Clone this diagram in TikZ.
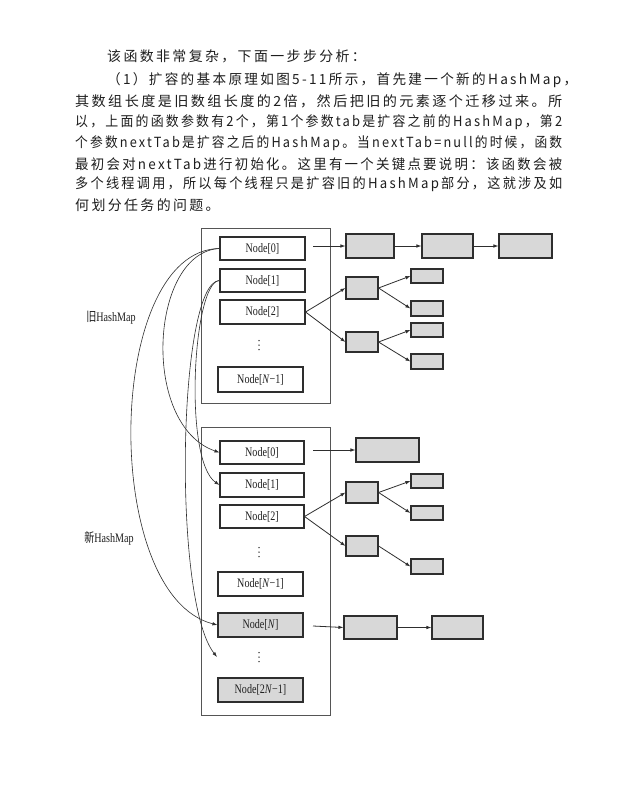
\documentclass[tikz,border=0pt]{standalone}
\usepackage{fontspec}
\usepackage{graphicx}
\setmainfont{Liberation Serif}
\newfontfamily\cjk[LetterSpace=17]{Noto Sans CJK SC}
\newfontfamily\cjkplain{Noto Sans CJK SC}
\usetikzlibrary{arrows.meta}
\definecolor{txt}{HTML}{1E1E1E}
\definecolor{boxfill}{HTML}{D8D8D8}
\definecolor{edge}{HTML}{2E2E2E}
\definecolor{frame}{HTML}{555555}
\newcommand{\nlab}[1]{\scalebox{0.78}[1]{#1}}
\newcommand{\fitline}[2]{\resizebox{#1}{\height}{#2}}
\newcommand{\vdotsat}[1]{\foreach \dy in {-4.5,0,4.5}{\fill[txt] ([yshift=-\dy bp]#1) circle (0.75bp);}}
\begin{document}
\begin{tikzpicture}[x=1bp,y=-1bp,
  para/.style={anchor=west,inner sep=0,font=\fontsize{14}{14}\selectfont\cjk,text=txt},
  frm/.style={draw=frame,line width=1bp,inner sep=0},
  nodebox/.style={draw=edge,line width=1.1bp,inner sep=0,font=\fontsize{13}{13}\selectfont,text=txt},
  gnode/.style={nodebox,fill=boxfill},
  gb/.style={draw=edge,line width=1.1bp,fill=boxfill,inner sep=0},
  conn/.style={draw=edge,line width=0.8bp,-{Latex[length=5bp,width=3.6bp]}},
  curv/.style={draw=edge,line width=0.6bp,-{Latex[length=5bp,width=3.4bp]}},
  side/.style={inner sep=0,font=\fontsize{13}{13}\selectfont,text=txt}
]
\useasboundingbox[fill=white] (0,0) rectangle (640,812);

% paragraph
\node[para] (l1) at (107,56) {该函数非常复杂，下面一步步分析：};
\node[para] (l2) at (107,80) {\fitline{470bp}{（1）扩容的基本原理如图5-11所示，首先建一个新的HashMap，}};
\node[para] (l3) at (75,101) {\fitline{487bp}{其数组长度是旧数组长度的2倍，然后把旧的元素逐个迁移过来。所}};
\node[para] (l4) at (75,122) {\fitline{487bp}{以，上面的函数参数有2个，第1个参数tab是扩容之前的HashMap，第2}};
\node[para] (l5) at (75,143) {\fitline{487bp}{个参数nextTab是扩容之后的HashMap。当nextTab=null的时候，函数}};
\node[para] (l6) at (75,164) {\fitline{487bp}{最初会对nextTab进行初始化。这里有一个关键点要说明：该函数会被}};
\node[para] (l7) at (75,184) {\fitline{487bp}{多个线程调用，所以每个线程只是扩容旧的HashMap部分，这就涉及如}};
\node[para] (l8) at (75,205) {何划分任务的问题。};

% side labels
\node[side] (oldlab) at (111,318) {\nlab{{\cjkplain 旧}HashMap}};
\node[side] (newlab) at (109,538) {\nlab{{\cjkplain 新}HashMap}};

% old hashmap
\node[frm,minimum width=129bp,minimum height=175bp] (oldf) at (265.5,315.5) {};
\node[nodebox,minimum width=85bp,minimum height=23bp] (oN0) at (262.5,248.5) {\nlab{Node[0]}};
\node[nodebox,minimum width=85bp,minimum height=23bp] (oN1) at (262.5,280.5) {\nlab{Node[1]}};
\node[nodebox,minimum width=85bp,minimum height=24bp] (oN2) at (262.5,312) {\nlab{Node[2]}};
\coordinate (od) at (259,345);
\vdotsat{od}
\node[nodebox,minimum width=85bp,minimum height=25bp] (oNm) at (260.5,379.5) {\nlab{Node[\textit{N}−1]}};

\coordinate (os0) at (313,246);
\node[gb,minimum width=48bp,minimum height=24bp] (b1) at (370,246) {};
\node[gb,minimum width=51bp,minimum height=24bp] (b2) at (447.5,246) {};
\node[gb,minimum width=53bp,minimum height=24bp] (b3) at (525.5,246) {};
\node[gb,minimum width=32bp,minimum height=22bp] (A) at (362,288) {};
\node[gb,minimum width=32bp,minimum height=20bp] (B) at (362,342) {};
\node[gb,minimum width=32bp,minimum height=14bp] (S1) at (427,276) {};
\node[gb,minimum width=32bp,minimum height=15bp] (S2) at (427,308.5) {};
\node[gb,minimum width=32bp,minimum height=14bp] (S3) at (427,330) {};
\node[gb,minimum width=32bp,minimum height=15bp] (S4) at (427,361.5) {};

\draw[conn] (os0) -- (b1.west);
\draw[conn] (b1.east) -- (b2.west);
\draw[conn] (b2.east) -- (b3.west);
\draw[conn] (oN2.east) -- (A.west);
\draw[conn] (oN2.east) -- (B.west);
\draw[conn] (A.east) -- (S1.west);
\draw[conn] (A.east) -- (S2.west);
\draw[conn] (B.east) -- (S3.west);
\draw[conn] (B.east) -- (S4.west);

% new hashmap
\node[frm,minimum width=129bp,minimum height=288bp] (newf) at (265.5,571) {};
\node[nodebox,minimum width=84bp,minimum height=23bp] (nN0) at (262,452.5) {\nlab{Node[0]}};
\node[nodebox,minimum width=84bp,minimum height=24bp] (nN1) at (262,485) {\nlab{Node[1]}};
\node[nodebox,minimum width=84bp,minimum height=23bp] (nN2) at (262,516.5) {\nlab{Node[2]}};
\coordinate (nd1) at (259,552);
\vdotsat{nd1}
\node[nodebox,minimum width=85bp,minimum height=24bp] (nNm) at (260.5,584) {\nlab{Node[\textit{N}−1]}};
\node[gnode,minimum width=85bp,minimum height=24bp] (nNN) at (260.5,625) {\nlab{Node[\textit{N}]}};
\coordinate (nd2) at (259,657);
\vdotsat{nd2}
\node[gnode,minimum width=85bp,minimum height=24bp] (nNL) at (260.5,690) {\nlab{Node[2\textit{N}−1]}};

\coordinate (ns0) at (313,450);
\coordinate (nsN) at (313,626);
\node[gb,minimum width=63bp,minimum height=24bp] (c0) at (387.5,450) {};
\node[gb,minimum width=32bp,minimum height=21bp] (C) at (362,492.5) {};
\node[gb,minimum width=32bp,minimum height=20bp] (D) at (362,546) {};
\node[gb,minimum width=32bp,minimum height=14bp] (T1) at (427,481) {};
\node[gb,minimum width=32bp,minimum height=14bp] (T2) at (427,513) {};
\node[gb,minimum width=32bp,minimum height=15bp] (T3) at (427,566.5) {};
\node[gb,minimum width=53bp,minimum height=23bp] (e1) at (370.5,627.5) {};
\node[gb,minimum width=51bp,minimum height=23bp] (e2) at (457.5,627.5) {};

\draw[conn] (ns0) -- (c0.west);
\draw[conn] (nN2.east) -- (C.west);
\draw[conn] (nN2.east) -- (D.west);
\draw[conn] (C.east) -- (T1.west);
\draw[conn] (C.east) -- (T2.west);
\draw[conn] (D.east) -- (T3.west);
\draw[conn] (nsN) -- (e1.west);
\draw[conn] (e1.east) -- (e2.west);

% migration curves
\coordinate (cend) at (217,657);
\draw[curv] (oN0.west) .. controls (105,250) and (100,595) .. (nNN.west);
\draw[curv] (oN0.west) .. controls (150,252) and (140,425) .. (nN0.west);
\draw[curv] (oN1.west) .. controls (193,281) and (183,460) .. (nN1.west);
\draw[curv] (oN1.west) .. controls (178,282) and (172,600) .. (cend);
\end{tikzpicture}
\end{document}
